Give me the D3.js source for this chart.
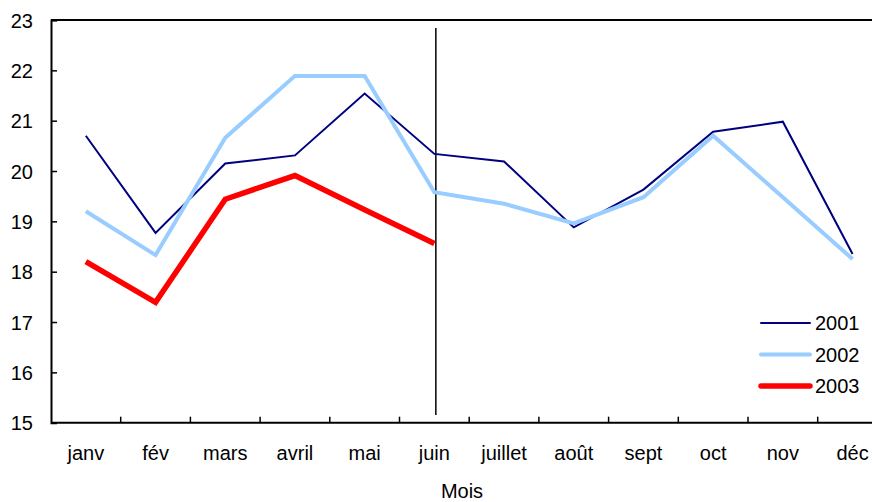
<!DOCTYPE html>
<html>
<head>
<meta charset="utf-8">
<script src="https://cdn.jsdelivr.net/npm/d3@7"></script>
<style>
  body { margin: 0; background: #fff; }
  text { font-family: "Liberation Sans", Arial, sans-serif; fill: #000; }
</style>
</head>
<body>
<div id="chart"></div>
<script>
// data
var months = ["janv", "fév", "mars", "avril", "mai", "juin", "juillet", "août", "sept", "oct", "nov", "déc"];
var y2001 = [20.70, 18.77, 20.15, 20.31, 21.54, 20.34, 20.19, 18.88, 19.63, 20.78, 20.98, 18.35];
var y2002 = [19.20, 18.33, 20.66, 21.89, 21.89, 19.58, 19.35, 18.96, 19.48, 20.70, 19.48, 18.25];
var y2003 = [18.20, 17.39, 19.44, 19.91, 19.23, 18.56];
var yTicks = [15, 16, 17, 18, 19, 20, 21, 22, 23];

var svgWidth = 872;
var svgHeight = 502;

var margin = { top: 20, left: 51 };
var bandW = 69.7;
var plotRight = margin.left + bandW * months.length;
var plotBottom = 422.7;

var svg = d3.select("#chart")
  .append("svg")
  .attr("width", svgWidth)
  .attr("height", svgHeight);

var xScale = d3.scaleBand()
  .domain(months)
  .range([margin.left, plotRight]);

var yScale = d3.scaleLinear()
  .domain([15, 23])
  .range([plotBottom, margin.top]);

var xc = function(m) { return xScale(m) + xScale.bandwidth() / 2; };

// top border
svg.append("line")
  .attr("x1", margin.left).attr("x2", plotRight)
  .attr("y1", yScale(23)).attr("y2", yScale(23))
  .attr("stroke", "#000").attr("stroke-width", 2);

// y axis, ticks pointing inward
var yAxis = svg.append("g")
  .attr("transform", `translate(${margin.left},0)`)
  .call(d3.axisRight(yScale).tickValues(yTicks).tickSize(6).tickFormat(d3.format("d")));
yAxis.select(".domain").attr("stroke-width", 2);
yAxis.selectAll(".tick line").attr("stroke-width", 1.5);
yAxis.selectAll(".tick text")
  .attr("x", -18)
  .attr("text-anchor", "end")
  .attr("font-size", 20)
  .attr("dy", "0.35em");

// x axis: ticks between categories, pointing up
var xAxis = svg.append("g")
  .attr("transform", `translate(0,${plotBottom})`);
xAxis.append("line")
  .attr("x1", margin.left).attr("x2", plotRight)
  .attr("stroke", "#000").attr("stroke-width", 2);
xAxis.selectAll(".tk")
  .data(months.slice(1))
  .enter()
  .append("line")
  .attr("class", "tk")
  .attr("x1", d => xScale(d)).attr("x2", d => xScale(d))
  .attr("y1", 0).attr("y2", -6)
  .attr("stroke", "#000").attr("stroke-width", 1.5);
xAxis.selectAll(".lbl")
  .data(months)
  .enter()
  .append("text")
  .attr("class", "lbl")
  .attr("x", d => xc(d))
  .attr("y", 30)
  .attr("dy", "0.35em")
  .attr("text-anchor", "middle")
  .attr("font-size", 20)
  .text(d => d);

svg.append("text")
  .attr("x", 462)
  .attr("y", 491)
  .attr("dy", "0.35em")
  .attr("text-anchor", "middle")
  .attr("font-size", 20)
  .text("Mois");

// vertical marker at juin
svg.append("line")
  .attr("x1", xc("juin") + 1.5).attr("x2", xc("juin") + 1.5)
  .attr("y1", 28).attr("y2", 415)
  .attr("stroke", "#000").attr("stroke-width", 1.5);

var line = d3.line()
  .x((d, i) => xc(months[i]))
  .y(d => yScale(d));

var series = [
  { name: "2001", values: y2001, color: "#000080", width: 2 },
  { name: "2002", values: y2002, color: "#99ccff", width: 4 },
  { name: "2003", values: y2003, color: "#ff0000", width: 5.5 }
];

series.forEach(function(s) {
  svg.append("path")
    .datum(s.values)
    .attr("d", line)
    .attr("fill", "none")
    .attr("stroke", s.color)
    .attr("stroke-width", s.width)
    .attr("stroke-linejoin", "miter")
    .attr("stroke-linecap", "butt");
});

// legend
var legend = svg.append("g");
series.forEach(function(s, i) {
  var ly = 323 + i * 31.5;
  legend.append("line")
    .attr("x1", 761).attr("x2", 810)
    .attr("y1", ly).attr("y2", ly)
    .attr("stroke", s.color)
    .attr("stroke-width", s.width)
    .attr("stroke-linecap", "round");
  legend.append("text")
    .attr("x", 815)
    .attr("y", ly)
    .attr("dy", "0.35em")
    .attr("font-size", 20)
    .text(s.name);
});
</script>
</body>
</html>
